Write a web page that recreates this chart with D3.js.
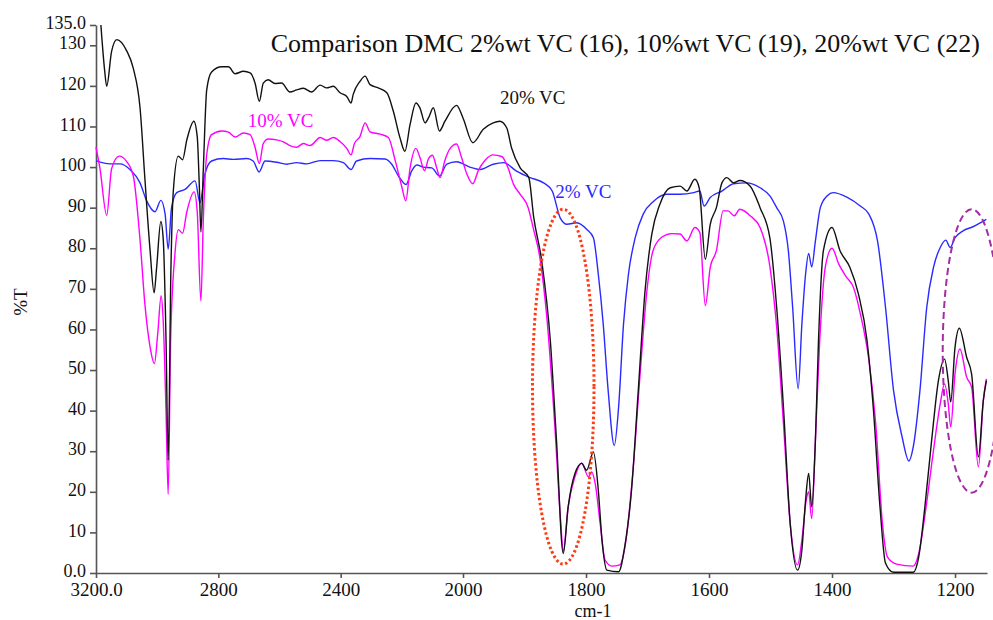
<!DOCTYPE html>
<html>
<head>
<meta charset="utf-8">
<script src="https://cdn.jsdelivr.net/npm/d3@7"></script>
<style>
  body { margin: 0; background: #fff; }
  svg { display: block; font-family: "Liberation Serif", "Times New Roman", serif; }
  svg text { font-family: "Liberation Serif", "Times New Roman", serif !important; }
</style>
</head>
<body>
<div id="chart"></div>
<script>
// FTIR spectra, [wavenumber cm-1, %T]
const vc20 = [
  [3184,135],[3172,124],[3165,119.9],[3149,128.5],[3132,131.4],[3100,128.7],[3078,124.3],[3056,114.6],[3040,97],[3023,79.3],
  [3010,69],[3002,75],[2988,86.6],[2980,82],[2971,57.3],[2964,27.8],[2955,75],[2947,94.3],[2931,102.7],[2917,101.8],
  [2903,106.7],[2880,111.3],[2869,107.5],[2862,95],[2857,84],[2849,99.6],[2838,119],[2822,123.4],[2789,124.7],[2767,124.7],
  [2745,123],[2718,123.6],[2696,123.2],[2680,120.7],[2666,116.2],[2653,120.7],[2637,121.5],[2615,120.6],[2593,120.7],[2566,118.5],
  [2544,119],[2522,119.4],[2495,118.5],[2467,120.2],[2446,119.5],[2424,119.9],[2402,118.3],[2380,117.4],[2366,115.8],[2359,117.9],
  [2337,121.1],[2320,122.4],[2304,120.3],[2277,119.5],[2249,118.3],[2228,113.8],[2206,107.2],[2190,103.9],[2173,110.5],[2154,115.8],
  [2141,114.6],[2124,110.9],[2113,112.1],[2097,114.6],[2077,108.9],[2059,111.3],[2021,115.2],[2000,112.1],[1984,106],[1967,109.3],
  [1951,110.9],[1940,111.3],[1929,109.7],[1921,104.7],[1907,99.8],[1893,97.4],[1885,87.6],[1872,76.9],[1858,57.2],[1848,32.7],
  [1837,4.8],[1829,16.3],[1818,24.5],[1807,27],[1799,25.3],[1788,29.8],[1780,20.4],[1774,8.1],[1766,0.7],[1747,0.3],
  [1737,6.5],[1726,20.4],[1715,45],[1704,69.5],[1693,83.5],[1680,90.8],[1663,94.9],[1647,95.3],[1636,94.1],[1623,97],
  [1616,94.9],[1606,77.3],[1598,85.9],[1588,90],[1579,96.1],[1571,97.4],[1560,96.1],[1550,96.7],[1533,95.3],[1517,90],
  [1501,82.5],[1490,65.4],[1479,40.9],[1468,12.2],[1456,0.7],[1449,5.7],[1443,17.9],[1438,24.5],[1433,16.3],[1427,32.7],
  [1422,57.2],[1414,79.4],[1400,85.1],[1387,79.4],[1371,75.3],[1357,68.7],[1343,57.2],[1333,40.9],[1322,16.3],[1313,2.4],
  [1300,0.2],[1268,0.2],[1259,4],[1249,16.3],[1238,32.7],[1227,47.4],[1217,52.7],[1211,47.4],[1207,42.1],[1200,55.6],
  [1193,60.3],[1181,53.1],[1173,49],[1162,28.6],[1154,42.5],[1149,47.4]
];
const vc10 = [
  [3200,104.9],[3187,99.6],[3165,88.1],[3149,99.6],[3124,102.7],[3100,101.4],[3078,97.8],[3056,82],[3040,66.1],[3023,55.6],
  [3009,51.6],[2998,59.1],[2987,68.3],[2980,61.7],[2971,39.7],[2964,19.4],[2956,57.3],[2942,78.5],[2931,84.6],[2917,83.7],
  [2903,89],[2879,93.9],[2869,89],[2857,67],[2849,87.3],[2838,103.1],[2822,108],[2789,108.9],[2767,108.6],[2745,107.4],
  [2718,108.4],[2696,108],[2680,104.9],[2666,100.9],[2653,105.8],[2637,106.9],[2609,106.7],[2587,106.2],[2566,105.3],[2544,104.9],
  [2522,105.8],[2500,105.3],[2467,107.3],[2446,106.6],[2424,107.3],[2402,106.3],[2380,104.6],[2366,103],[2355,105.8],[2337,107.5],
  [2320,110.9],[2304,108.7],[2271,108.1],[2244,107.3],[2222,101.7],[2200,95.1],[2187,91.7],[2173,99.8],[2154,104.6],[2141,102.4],
  [2126,99.1],[2113,102],[2100,102.9],[2086,99.8],[2075,97.4],[2059,101.7],[2042,104.6],[2021,105.7],[2005,102.4],[1994,98.4],
  [1984,95.9],[1975,99.2],[1964,101.7],[1951,103],[1937,102.6],[1926,99.5],[1918,95.8],[1907,93.3],[1894,90],[1886,85.1],
  [1875,77.7],[1864,63.5],[1851,36.9],[1841,12.2],[1837,5.2],[1829,16.3],[1818,23.7],[1807,27.1],[1796,23.7],[1791,24.9],
  [1785,22],[1777,12.2],[1769,3.2],[1758,1.7],[1745,2],[1735,8.1],[1724,24.5],[1712,49.1],[1701,69.5],[1691,79.4],
  [1677,82.7],[1661,83.6],[1647,83.5],[1636,81.8],[1623,85.1],[1615,83.9],[1606,65.9],[1598,75.3],[1588,79.4],[1577,89.2],
  [1569,89.2],[1559,88],[1550,89.6],[1533,88],[1517,85.1],[1501,75.5],[1490,60.6],[1479,36.9],[1468,12.2],[1456,2],
  [1449,8.1],[1442,17.9],[1438,20],[1433,13.4],[1427,32.7],[1420,57.2],[1411,75.3],[1400,80],[1389,76.1],[1378,73.2],
  [1365,70.3],[1354,63.9],[1340,52.4],[1329,36.9],[1318,12.2],[1310,4],[1295,2.2],[1268,1.7],[1259,4.8],[1247,16.3],
  [1235,30.2],[1224,41.7],[1217,46.6],[1211,41.7],[1207,36],[1200,49.1],[1192,55.2],[1181,48.2],[1173,45.8],[1162,26.1],
  [1154,42.5],[1149,47.8]
];
const vc2 = [
  [3200,101.6],[3154,100.8],[3122,100.8],[3089,99.4],[3056,96.1],[3034,91.6],[3007,89],[2988,91.8],[2974,88.4],[2964,79.8],
  [2953,90],[2936,93.7],[2909,94.5],[2876,96.6],[2860,91.2],[2844,98.2],[2822,101.5],[2784,102.1],[2751,101.9],[2707,102.1],
  [2686,101.5],[2667,98.8],[2647,101.5],[2609,101.2],[2576,100.7],[2544,101.1],[2511,100.8],[2467,101.6],[2424,101.6],[2391,101.1],
  [2366,99.4],[2348,101.5],[2304,102.1],[2255,102],[2233,100.7],[2211,97.8],[2186,95.7],[2168,99],[2151,100.5],[2130,100],
  [2102,99.8],[2077,97.8],[2053,100.7],[2021,101.3],[1989,100],[1972,99.4],[1951,100.7],[1934,101.1],[1913,99],[1891,97.4],
  [1869,96.1],[1855,94.1],[1842,87.5],[1831,85.9],[1815,86.3],[1799,84.7],[1788,82.6],[1780,73.6],[1772,61.3],[1764,45],
  [1754,31.4],[1747,40.9],[1739,61.3],[1731,73.6],[1720,82.6],[1707,88.4],[1690,91.6],[1669,93.3],[1647,93.3],[1625,93.7],
  [1615,94.1],[1608,90.4],[1598,92.5],[1579,94.1],[1560,95.9],[1539,96.1],[1517,94.9],[1501,92.9],[1490,90],[1479,86.7],
  [1471,79.4],[1464,65.4],[1455,45.4],[1449,61.3],[1443,73.6],[1438,78.7],[1433,75.4],[1427,81.8],[1419,90],[1408,92.9],
  [1398,93.7],[1376,92.6],[1354,90.4],[1340,88.4],[1326,81.8],[1313,65.4],[1300,45],[1286,33.5],[1275,27.6],[1268,31],
  [1257,45],[1246,65.4],[1235,75.3],[1224,80.2],[1215,82],[1208,80.2],[1200,82.6],[1187,84.3],[1171,85.3],[1154,86.7],
  [1149,87.1]
];

// Axis ticks
const xTicks = [3200, 2800, 2400, 2000, 1800, 1600, 1400, 1200];
const xTickLabels = ["3200.0", "2800", "2400", "2000", "1800", "1600", "1400", "1200"];
const yTicks = [0, 10, 20, 30, 40, 50, 60, 70, 80, 90, 100, 110, 120, 130, 135];
const yTickLabels = ["0.0", "10", "20", "30", "40", "50", "60", "70", "80", "90", "100", "110", "120", "130", "135.0"];

// Series labels
const seriesLabels = [
  {text: "20% VC", wn: 1940, t: 115.5, color: "#111"},
  {text: "10% VC", wn: 2704, t: 109.8, color: "#ff00ff"},
  {text: "2% VC", wn: 1850, t: 92.5, color: "#2a2aff"}
];

// Highlight ellipses [centre wn, centre %T, half width cm-1, half height %T]
const ellipse1 = [1837, 45.9, 50, 43.7];
const ellipse2 = [1173, 54.7, 47, 34.9];

const width = 993, height = 620;

const svg = d3.select("#chart")
  .append("svg")
    .attr("width", width)
    .attr("height", height);

// wavenumber scale changes at 2000 cm-1
const x = d3.scaleLinear()
  .domain([3200, 2000, 1148])
  .range([96, 463, 987]);

const y = d3.scaleLinear()
  .domain([0, 135])
  .range([573, 25]);

// Axes
const gx = svg.append("g")
  .attr("transform", "translate(0,573)")
  .call(d3.axisBottom(x).tickValues(xTicks)
    .tickFormat((d, i) => xTickLabels[i])
    .tickSize(5).tickSizeOuter(0).tickPadding(5));

const gy = svg.append("g")
  .attr("transform", "translate(96,0)")
  .call(d3.axisLeft(y).tickValues(yTicks)
    .tickFormat((d, i) => yTickLabels[i])
    .tickSize(6).tickSizeOuter(0).tickPadding(4));

gx.attr("font-size", 19);
gy.attr("font-size", 18);
gy.selectAll(".tick text").attr("dy", "0.2em");

svg.selectAll(".domain, .tick line")
  .attr("stroke", "#555")
  .attr("stroke-width", 1.6);
svg.selectAll(".tick text").attr("fill", "#111");

// Axis titles
svg.append("text")
  .attr("x", 593).attr("y", 617)
  .attr("text-anchor", "middle")
  .attr("font-size", 18)
  .attr("fill", "#111")
  .text("cm-1");

svg.append("text")
  .attr("transform", "translate(27,302) rotate(-90)")
  .attr("text-anchor", "middle")
  .attr("font-size", 19)
  .attr("fill", "#111")
  .text("%T");

// Title
svg.append("text")
  .attr("x", 980).attr("y", 52)
  .attr("text-anchor", "end")
  .attr("font-size", 26)
  .attr("fill", "#111")
  .text("Comparison DMC 2%wt VC (16), 10%wt VC (19), 20%wt VC (22)");

// Spectra
const line = d3.line()
  .x(d => x(d[0]))
  .y(d => y(d[1]))
  .curve(d3.curveMonotoneX);

const series = [
  {data: vc2, color: "#2a2aff"},
  {data: vc10, color: "#ff00ff"},
  {data: vc20, color: "#111"}
];

svg.append("g")
  .selectAll("path")
  .data(series)
  .join("path")
    .attr("fill", "none")
    .attr("stroke", d => d.color)
    .attr("stroke-width", 1.4)
    .attr("stroke-linejoin", "round")
    .attr("d", d => line(d.data));

// Labels
svg.append("g")
  .selectAll("text")
  .data(seriesLabels)
  .join("text")
    .attr("x", d => x(d.wn))
    .attr("y", d => y(d.t))
    .attr("font-size", 19)
    .attr("fill", d => d.color)
    .text(d => d.text);

// Ellipses
function drawEllipse(e, color, dash, w) {
  svg.append("ellipse")
    .attr("cx", x(e[0]))
    .attr("cy", y(e[1]))
    .attr("rx", x(e[0] - e[2]) - x(e[0]))
    .attr("ry", y(e[1] - e[3]) - y(e[1]))
    .attr("fill", "none")
    .attr("stroke", color)
    .attr("stroke-width", w)
    .attr("stroke-dasharray", dash);
}
drawEllipse(ellipse1, "#ff3b14", "2.5,2.5", 3);
drawEllipse(ellipse2, "#a52ca5", "7,4", 2);
</script>
</body>
</html>
